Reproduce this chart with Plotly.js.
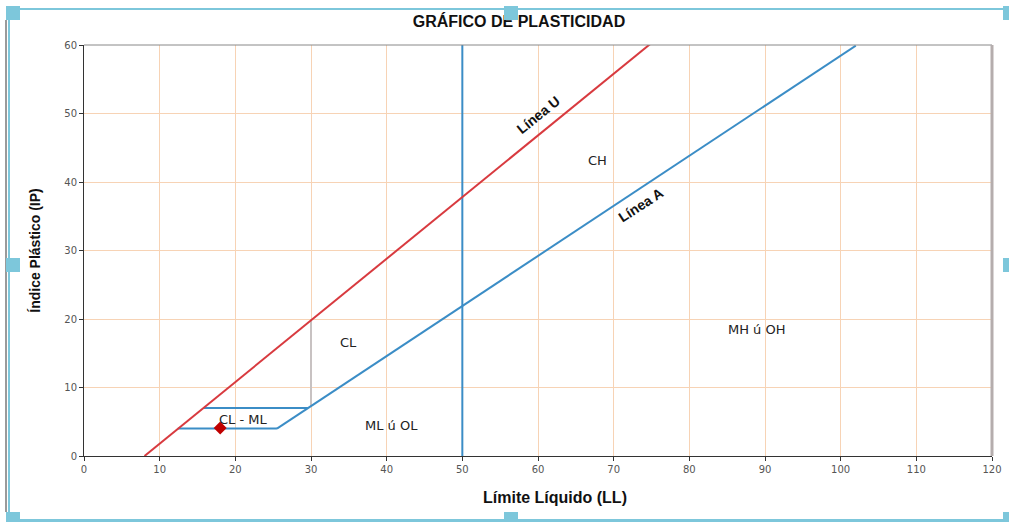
<!DOCTYPE html>
<html>
<head>
<meta charset="utf-8">
<script src="https://cdn.plot.ly/plotly-3.0.1.min.js"></script>
<style>
  html, body { margin: 0; padding: 0; background: #fff; }
  #wrap { position: relative; width: 1009px; height: 522px; overflow: hidden; }
  #chart { position: absolute; left: 0; top: 0; width: 1009px; height: 522px; }
  .deco { position: absolute; pointer-events: none; }
</style>
</head>
<body>
<div id="wrap">
  <div id="chart"></div>
</div>
<script>
// ---- Data ----
const uLineLL = [8, 75];
const uLinePI = [0, 60.3];
const aLineLL = [25.5, 102];
const aLinePI = [4, 59.9];
const clmlLL = [12.4, 25.5, null, 15.8, 29.6];
const clmlPI = [4, 4, null, 7, 7];
const ll50LL = [50, 50];
const ll50PI = [0, 60];
const cl30LL = [30, 30];
const cl30PI = [7.3, 20];
const sampleLL = [18];
const samplePI = [4.1];

const zoneNames = ['CL - ML', 'CL', 'ML ú OL', 'CH', 'MH ú OH'];
const zoneLL = [21.0, 35.0, 40.6, 67.8, 89.0];
const zonePI = [5.3, 16.5, 4.4, 43.2, 18.4];

const lineNames = ['Línea U', 'Línea A'];
const lineNameLL = [60.0, 73.6];
const lineNamePI = [49.8, 36.6];
const lineNameAngle = [-39, -33];

const xTicks = [0, 10, 20, 30, 40, 50, 60, 70, 80, 90, 100, 110, 120];
const yTicks = [0, 10, 20, 30, 40, 50, 60];

const RED = '#d83a3f';
const BLUE = '#3b8dc6';
const FONT = 'Liberation Sans, Arial, sans-serif';
const WIDE = 'DejaVu Sans, Verdana, sans-serif';

const traces = [
  { x: cl30LL, y: cl30PI, mode: 'lines', line: { color: '#c8c2c2', width: 2 }, hoverinfo: 'skip' },
  { x: ll50LL, y: ll50PI, mode: 'lines', line: { color: BLUE, width: 2 }, hoverinfo: 'skip' },
  { x: clmlLL, y: clmlPI, mode: 'lines', line: { color: BLUE, width: 2 }, connectgaps: false, hoverinfo: 'skip' },
  { x: aLineLL, y: aLinePI, mode: 'lines', line: { color: BLUE, width: 2 }, hoverinfo: 'skip' },
  { x: uLineLL, y: uLinePI, mode: 'lines', line: { color: RED, width: 2 }, hoverinfo: 'skip' },
  { x: sampleLL, y: samplePI, mode: 'markers', marker: { symbol: 'diamond', size: 10, color: '#c00000' } }
];

const pw = 1009 - 84 - 17, ph = 522 - 45 - 66;
const annotations = [];
zoneNames.forEach((t, i) => annotations.push({
  x: zoneLL[i], y: zonePI[i], xref: 'x', yref: 'y', text: t, showarrow: false,
  font: { family: WIDE, size: 13, color: '#222' }
}));
lineNames.forEach((t, i) => annotations.push({
  x: lineNameLL[i], y: lineNamePI[i], xref: 'x', yref: 'y', text: '<b>' + t + '</b>', showarrow: false,
  textangle: lineNameAngle[i], font: { family: FONT, size: 14, color: '#111' }
}));
annotations.push({
  x: (555 - 84) / pw, y: (456 - 497) / ph, xref: 'paper', yref: 'paper',
  xanchor: 'center', yanchor: 'middle',
  text: '<b>Límite Líquido (LL)</b>', showarrow: false,
  font: { family: FONT, size: 16, color: '#111' }
});

const layout = {
  width: 1009, height: 522,
  margin: { l: 84, r: 17, t: 45, b: 66 },
  paper_bgcolor: 'rgba(0,0,0,0)', plot_bgcolor: '#fff',
  showlegend: false,
  font: { family: FONT },
  title: { text: '<b>GRÁFICO DE PLASTICIDAD</b>', x: 519 / 1009, xref: 'container', y: 1 - 21 / 522, yref: 'container',
           xanchor: 'center', yanchor: 'middle', font: { family: FONT, size: 16, color: '#111' } },
  xaxis: {
    range: [0, 120], tickvals: xTicks, ticktext: xTicks.map(String),
    showgrid: true, gridcolor: '#f7d3b5', gridwidth: 1,
    zeroline: false, showline: true, linecolor: '#333', linewidth: 1,
    ticks: 'outside', ticklen: 4, tickcolor: '#333',
    tickfont: { family: WIDE, size: 10, color: '#555' }, fixedrange: true
  },
  yaxis: {
    range: [0, 60], tickvals: yTicks, ticktext: yTicks.map(String),
    showgrid: true, gridcolor: '#f7d3b5', gridwidth: 1,
    zeroline: false, showline: true, linecolor: '#333', linewidth: 1,
    ticks: 'outside', ticklen: 4, tickcolor: '#333',
    tickfont: { family: WIDE, size: 10, color: '#555' },
    title: { text: '<b>Índice Plástico (IP)</b>', standoff: 20, font: { family: FONT, size: 14, color: '#111' } },
    fixedrange: true
  },
  shapes: [
    { type: 'line', xref: 'paper', yref: 'paper', x0: 0, x1: 1, y0: 1, y1: 1, line: { color: '#888', width: 1 } },
    { type: 'line', xref: 'paper', yref: 'paper', x0: 1, x1: 1, y0: 0, y1: 1, line: { color: '#b5adad', width: 3 } }
  ],
  annotations: annotations
};

Plotly.newPlot('chart', traces, layout, { displayModeBar: false, staticPlot: true }).then(() => {
  const wrap = document.getElementById('wrap');
  const LB = '#7dc7db';
  const add = (l, t, w, h, c) => {
    const d = document.createElement('div');
    d.className = 'deco';
    d.style.left = l + 'px'; d.style.top = t + 'px';
    d.style.width = w + 'px'; d.style.height = h + 'px';
    d.style.background = c;
    wrap.appendChild(d);
  };
  // gray left border
  add(5, 20, 2, 492, '#9a9a9a');
  // light blue frame
  add(8, 8, 1000, 2, LB);
  add(8, 8, 2, 514, LB);
  add(8, 519, 1000, 3, LB);
  // handles
  const hs = [[6, 6], [504, 6], [1003, 6], [6, 258], [1003, 258], [6, 512], [504, 512], [1003, 512]];
  hs.forEach(p => add(p[0], p[1], 14, 14, LB));
});
</script>
</body>
</html>
